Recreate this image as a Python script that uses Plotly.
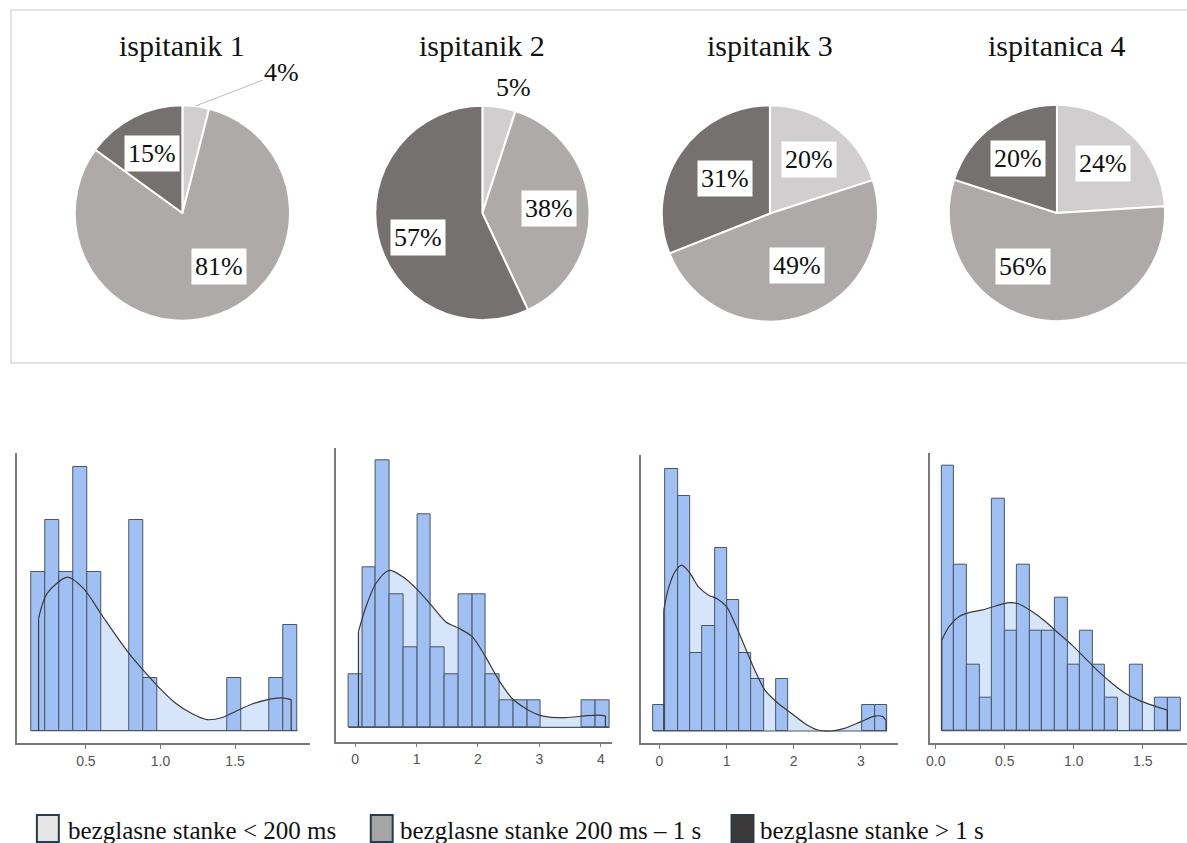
import math
import plotly.graph_objects as go

W, H = 1187, 843

# ---------------- data ----------------
pie_titles = ["ispitanik 1", "ispitanik 2", "ispitanik 3", "ispitanica 4"]
pie_categories = ["bezglasne stanke < 200 ms", "bezglasne stanke 200 ms – 1 s", "bezglasne stanke > 1 s"]
pie1_values = [4, 81, 15]
pie2_values = [5, 38, 57]
pie3_values = [20, 49, 31]
pie4_values = [24, 56, 20]

# histograms: first bin edge, bin width, counts per bin
h1_start, h1_width = 0.133, 0.094
h1_counts = [3, 4, 3, 5, 3, 0, 0, 4, 1, 0, 0, 0, 0, 0, 1, 0, 0, 1, 2]
h2_start, h2_width = -0.108, 0.2236
h2_counts = [2, 6, 10, 5, 3, 8, 3, 2, 5, 5, 2, 1, 1, 1, 0, 0, 0, 1, 1]
h3_start, h3_width = -0.094, 0.1834
h3_counts = [1, 10, 9, 3, 4, 7, 5, 3, 2, 0, 2, 0, 0, 0, 0, 0, 0, 1, 1]
h4_start, h4_width = 0.0433, 0.091
h4_counts = [8, 5, 2, 1, 7, 3, 5, 3, 3, 4, 2, 3, 2, 1, 0, 2, 0, 1, 1]

# density curves (in count units)
k1_x = [0.183, 0.24, 0.378, 0.485, 0.6, 0.707, 0.79, 0.88, 0.976, 1.102, 1.213, 1.313, 1.413, 1.5, 1.61, 1.72, 1.81, 1.876]
k1_y = [2.13, 2.6, 2.91, 2.69, 2.22, 1.78, 1.46, 1.16, 0.86, 0.52, 0.32, 0.21, 0.25, 0.36, 0.50, 0.59, 0.62, 0.59]
k2_x = [0.054, 0.178, 0.34, 0.556, 0.772, 1.015, 1.257, 1.473, 1.689, 1.905, 2.121, 2.337, 2.553, 2.795, 3.04, 3.416, 3.74, 3.956, 4.074]
k2_y = [3.59, 4.53, 5.4, 5.88, 5.65, 5.15, 4.53, 3.96, 3.71, 3.4, 2.65, 1.78, 1.09, 0.68, 0.43, 0.36, 0.43, 0.46, 0.43]
k3_x = [0.064, 0.134, 0.233, 0.332, 0.455, 0.579, 0.728, 0.876, 1.0, 1.124, 1.272, 1.42, 1.569, 1.767, 1.965, 2.163, 2.361, 2.559, 2.757, 3.005, 3.203, 3.327, 3.376]
k3_y = [4.62, 5.45, 6.09, 6.34, 6.03, 5.52, 5.2, 5.03, 4.75, 4.11, 3.22, 2.33, 1.57, 1.06, 0.68, 0.29, 0.04, 0.0, 0.1, 0.36, 0.57, 0.55, 0.4]
k4_x = [0.043, 0.096, 0.169, 0.241, 0.337, 0.433, 0.53, 0.602, 0.698, 0.794, 0.891, 0.987, 1.084, 1.18, 1.276, 1.372, 1.469, 1.565, 1.678]
k4_y = [2.73, 3.14, 3.44, 3.56, 3.64, 3.76, 3.86, 3.82, 3.59, 3.29, 2.93, 2.58, 2.18, 1.78, 1.43, 1.13, 0.92, 0.77, 0.62]

h1_ticks = [0.5, 1.0, 1.5]
h1_ticktext = ["0.5", "1.0", "1.5"]
h2_ticks = [0, 1, 2, 3, 4]
h2_ticktext = ["0", "1", "2", "3", "4"]
h3_ticks = [0, 1, 2, 3]
h3_ticktext = ["0", "1", "2", "3"]
h4_ticks = [0.0, 0.5, 1.0, 1.5]
h4_ticktext = ["0.0", "0.5", "1.0", "1.5"]

# ---------------- style / layout ----------------
pie_colors = ["#d0cece", "#aeaaaa", "#767171"]
legend_colors = ["#e7e6e6", "#a5a5a5", "#3b3838"]
BAR_COLOR = "#a0c0f4"
BAR_LINE = "#4a5566"
KDE_FILL = "#d7e5fb"
KDE_LINE = "#3a3a3a"
AXIS_COLOR = "#7a7a7a"
SERIF = "Liberation Serif, Times New Roman, serif"
SANS = "Liberation Sans, Arial, sans-serif"


def px(x):
    return x / W


def py(y):
    return 1 - y / H


# pie geometry (pixels): centre x, centre y, radius
pie_geom = [(179, 213, 108), (480, 213, 107.5), (768.5, 213.5, 108.5), (1056.5, 213, 108.5)]
# label nudges (pixels) for a few inside labels, as placed in the original
label_nudge = {(0, 1): (14, -10), (1, 2): (0, 10), (2, 1): (4, -11), (2, 2): (11, 3), (3, 1): (-26, -13)}

# histogram panel geometry (pixels): left, right, top, bottom, x range, y range
panels = [
    dict(l=13.3, r=306.7, t=453, b=743, xr=[0.04, 2.0], yr=[-0.233, 5.26]),
    dict(l=332.7, r=610, t=448.3, b=741.7, xr=[-0.318, 4.18], yr=[-0.54, 10.46]),
    dict(l=639.3, r=896.7, t=455, b=743.3, xr=[-0.273, 3.55], yr=[-0.47, 10.55]),
    dict(l=929, r=1187, t=452.7, b=743.3, xr=[-0.043, 1.82], yr=[-0.38, 8.38]),
]

hist_data = [
    (h1_start, h1_width, h1_counts, k1_x, k1_y, h1_ticks, h1_ticktext),
    (h2_start, h2_width, h2_counts, k2_x, k2_y, h2_ticks, h2_ticktext),
    (h3_start, h3_width, h3_counts, k3_x, k3_y, h3_ticks, h3_ticktext),
    (h4_start, h4_width, h4_counts, k4_x, k4_y, h4_ticks, h4_ticktext),
]

fig = go.Figure()
annotations = []
shapes = []

# ---------------- pies ----------------
pie_values = [pie1_values, pie2_values, pie3_values, pie4_values]
for i, (vals, title, (cx, cy, r)) in enumerate(zip(pie_values, pie_titles, pie_geom)):
    fig.add_trace(go.Pie(
        values=vals, labels=pie_categories, sort=False, direction="clockwise", rotation=0,
        marker=dict(colors=pie_colors, line=dict(color="white", width=2)),
        textinfo="none", showlegend=False, hoverinfo="label+percent",
        domain=dict(x=[px(cx - r), px(cx + r)], y=[py(cy + r), py(cy - r)]),
    ))
    annotations.append(dict(
        text=title, x=px(cx), y=py(45), xref="paper", yref="paper", showarrow=False,
        font=dict(family=SERIF, size=30, color="#111"), xanchor="center", yanchor="middle",
    ))
    total = sum(vals)
    cum = 0
    for j, v in enumerate(vals):
        mid = math.radians((cum + v / 2) / total * 360)
        cum += v
        label = f"{v}%"
        if v >= 10:
            dx, dy = label_nudge.get((i, j), (0, 0))
            lx = cx + 0.62 * r * math.sin(mid) + dx
            ly = cy - 0.62 * r * math.cos(mid) + dy
            annotations.append(dict(
                text=label, x=px(lx), y=py(ly), xref="paper", yref="paper", showarrow=False,
                font=dict(family=SERIF, size=26, color="#111"), bgcolor="white", borderpad=3,
                xanchor="center", yanchor="middle",
            ))
        elif i == 0:
            ex = cx + r * math.sin(mid)
            ey = cy - r * math.cos(mid)
            annotations.append(dict(
                text=label, x=px(ex), y=py(ey), xref="paper", yref="paper", showarrow=True,
                arrowhead=0, arrowwidth=1, arrowcolor="#bdbdbd", ax=86, ay=-33,
                font=dict(family=SERIF, size=26, color="#111"), xanchor="center", yanchor="middle",
            ))
        else:
            lx = cx + 1.2 * r * math.sin(mid + 0.09)
            ly = cy - 1.2 * r * math.cos(mid + 0.09)
            annotations.append(dict(
                text=label, x=px(lx), y=py(ly), xref="paper", yref="paper", showarrow=False,
                font=dict(family=SERIF, size=26, color="#111"), xanchor="center", yanchor="middle",
            ))

# frame around the pies
shapes.append(dict(type="rect", xref="paper", yref="paper", x0=px(7), x1=px(1195), y0=py(363), y1=py(10),
                   line=dict(color="#d9d9d9", width=1.5), fillcolor="rgba(0,0,0,0)", layer="below"))

# ---------------- histograms ----------------
layout_axes = {}
for i, (p, (start, bw, counts, kx, ky, tv, tt)) in enumerate(zip(panels, hist_data)):
    n = i + 1
    m = i + 5
    xa, ya = f"x{'' if n == 1 else n}", f"y{'' if n == 1 else n}"
    xo, yo = f"x{m}", f"y{m}"
    centers = [start + (j + 0.5) * bw for j in range(len(counts))]
    heights = [c if c > 0 else None for c in counts]

    # density fill (base layer)
    fig.add_trace(go.Scatter(x=kx, y=ky, mode="lines", fill="tozeroy", fillcolor=KDE_FILL,
                             line=dict(color="rgba(0,0,0,0)", width=0, shape="spline", smoothing=0.8),
                             xaxis=xa, yaxis=ya, showlegend=False, hoverinfo="skip"))
    # bars (overlay)
    fig.add_trace(go.Bar(x=centers, y=heights, width=bw,
                         marker=dict(color=BAR_COLOR, line=dict(color=BAR_LINE, width=1)),
                         xaxis=xo, yaxis=yo, showlegend=False))
    # baseline under the bins
    fig.add_trace(go.Scatter(x=[start, start + bw * len(counts)], y=[0, 0], mode="lines",
                             line=dict(color=BAR_LINE, width=1.2),
                             xaxis=xo, yaxis=yo, showlegend=False, hoverinfo="skip"))
    # density outline
    fig.add_trace(go.Scatter(x=kx, y=ky, mode="lines",
                             line=dict(color=KDE_LINE, width=1.2, shape="spline", smoothing=0.8),
                             xaxis=xo, yaxis=yo, showlegend=False, hoverinfo="skip"))
    fig.add_trace(go.Scatter(x=[kx[0], kx[0], None, kx[-1], kx[-1]], y=[0, ky[0], None, ky[-1], 0],
                             mode="lines", line=dict(color=KDE_LINE, width=1.2),
                             xaxis=xo, yaxis=yo, showlegend=False, hoverinfo="skip"))

    dom_x = [px(p["l"]), px(p["r"])]
    dom_y = [py(p["b"]), py(p["t"])]
    key_x = "xaxis" if n == 1 else f"xaxis{n}"
    key_y = "yaxis" if n == 1 else f"yaxis{n}"
    layout_axes[key_x] = dict(domain=dom_x, range=p["xr"], anchor=ya, showline=True, linecolor=AXIS_COLOR,
                              linewidth=1.5, ticks="outside", ticklen=4, tickcolor=AXIS_COLOR, tickwidth=1.2,
                              tickvals=tv, ticktext=tt, tickfont=dict(family=SANS, size=14, color="#555"),
                              showgrid=False, zeroline=False, fixedrange=True)
    layout_axes[key_y] = dict(domain=dom_y, range=p["yr"], anchor=xa, showline=True, linecolor=AXIS_COLOR,
                              linewidth=1.5, ticks="", showticklabels=False, showgrid=False,
                              zeroline=False, fixedrange=True)
    layout_axes[f"xaxis{m}"] = dict(overlaying=xa, range=p["xr"], anchor=yo, visible=False, fixedrange=True)
    layout_axes[f"yaxis{m}"] = dict(overlaying=ya, range=p["yr"], anchor=xo, visible=False, fixedrange=True)

# ---------------- legend ----------------
legend_sq_x = [33, 368, 730]
legend_txt_x = [62, 395, 757]
for cat, col, sx, tx in zip(pie_categories, legend_colors, legend_sq_x, legend_txt_x):
    shapes.append(dict(type="rect", xref="paper", yref="paper", x0=px(sx), x1=px(sx + 22),
                       y0=py(842), y1=py(815), fillcolor=col, line=dict(color="#2b3a47", width=2)))
    annotations.append(dict(text=cat, x=px(tx), y=py(830), xref="paper", yref="paper", showarrow=False,
                            xanchor="left", yanchor="middle", font=dict(family=SERIF, size=25, color="#111")))

fig.update_layout(
    width=W, height=H, autosize=False,
    margin=dict(l=0, r=0, t=0, b=0),
    paper_bgcolor="white", plot_bgcolor="rgba(0,0,0,0)",
    barmode="overlay", bargap=0,
    annotations=annotations, shapes=shapes,
    showlegend=False,
    **layout_axes,
)

fig.write_html(
    "out.html",
    config={"displayModeBar": False},
    post_script="document.body.style.margin='0';document.body.style.overflow='hidden';",
)
